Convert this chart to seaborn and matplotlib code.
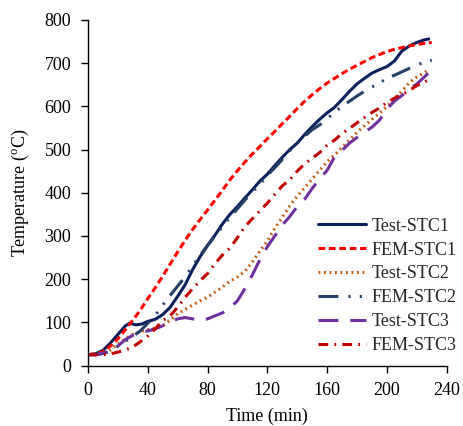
import numpy as np
import pandas as pd
import matplotlib
matplotlib.use("Agg")
import matplotlib.pyplot as plt
import seaborn as sns

# ---- data ----
t_test1 = [0, 5, 10, 15, 20, 25, 28, 32, 36, 40, 45, 50, 55, 60, 65, 70, 75, 80, 85, 90, 95, 100,
           105, 110, 115, 120, 125, 130, 135, 140, 145, 150, 155, 160, 165, 170, 175, 180, 185,
           190, 195, 200, 205, 210, 215, 220, 225, 228]
T_test1 = [25, 27, 35, 52, 72, 92, 98, 94, 96, 102, 107, 118, 135, 160, 187, 222, 252, 278, 302,
           328, 350, 368, 388, 407, 427, 443, 463, 482, 500, 515, 535, 553, 570, 585, 598, 616,
           635, 652, 665, 677, 685, 692, 705, 728, 740, 748, 754, 756]

t_fem1 = [0, 5, 10, 15, 20, 25, 30, 35, 40, 45, 50, 55, 60, 65, 70, 75, 80, 85, 90, 95, 100, 105,
          110, 115, 120, 125, 130, 135, 140, 145, 150, 155, 160, 165, 170, 175, 180, 185, 190, 195,
          200, 205, 210, 215, 220, 225, 230]
T_fem1 = [25, 27, 32, 45, 62, 83, 105, 128, 155, 180, 207, 235, 263, 290, 315, 338, 360, 383,
          406, 430, 451, 471, 490, 507, 525, 542, 560, 577, 595, 612, 627, 641, 654, 665, 676,
          686, 695, 704, 713, 720, 727, 732, 736, 740, 743, 746, 748]

t_test2 = [0, 5, 10, 15, 20, 25, 30, 35, 40, 45, 50, 55, 60, 65, 70, 75, 80, 85, 90, 95, 100, 105,
           110, 115, 120, 125, 130, 135, 140, 145, 150, 155, 160, 165, 170, 175, 180, 185, 190,
           195, 200, 205, 210, 215, 220, 225, 228]
T_test2 = [25, 25, 28, 36, 50, 62, 72, 78, 83, 87, 92, 105, 120, 130, 140, 150, 158, 170, 182,
           195, 205, 218, 240, 265, 288, 318, 343, 370, 392, 412, 432, 452, 472, 488, 505, 522,
           540, 555, 570, 584, 600, 618, 635, 655, 668, 678, 685]

t_fem2 = [0, 5, 10, 15, 20, 25, 30, 35, 40, 45, 50, 55, 60, 65, 70, 75, 80, 85, 90, 95, 100, 105,
          110, 115, 120, 125, 130, 135, 140, 145, 150, 155, 160, 165, 170, 175, 180, 185, 190, 195,
          200, 205, 210, 215, 220, 225, 230]
T_fem2 = [25, 25, 28, 35, 45, 56, 68, 80, 98, 116, 140, 162, 184, 205, 230, 255, 278, 300, 322,
          343, 363, 383, 402, 420, 440, 458, 477, 497, 515, 531, 546, 557, 571, 587, 600, 612,
          624, 635, 645, 654, 665, 672, 680, 688, 696, 702, 707]

t_test3 = [0, 5, 10, 15, 20, 25, 30, 35, 40, 45, 50, 55, 60, 65, 70, 75, 80, 85, 90, 95, 100, 105,
           110, 115, 120, 125, 130, 135, 140, 145, 150, 155, 160, 165, 170, 175, 180, 185, 190,
           195, 200, 205, 210, 215, 220, 225, 228]
T_test3 = [25, 25, 28, 33, 45, 60, 70, 76, 80, 85, 92, 101, 108, 111, 108, 104, 108, 115, 122,
           133, 150, 178, 210, 245, 275, 300, 325, 345, 368, 385, 410, 432, 452, 483, 498, 515,
           528, 540, 552, 568, 594, 612, 625, 640, 652, 668, 678]

t_fem3 = [0, 5, 10, 15, 20, 25, 30, 35, 40, 45, 50, 55, 60, 65, 70, 75, 80, 85, 90, 95, 100, 105,
          110, 115, 120, 125, 130, 135, 140, 145, 150, 155, 160, 165, 170, 175, 180, 185, 190, 195,
          200, 205, 210, 215, 220, 225, 228]
T_fem3 = [25, 25, 25, 27, 31, 36, 43, 55, 68, 85, 104, 115, 135, 158, 178, 196, 213, 236, 256,
          272, 296, 322, 340, 358, 376, 396, 416, 430, 450, 467, 480, 493, 510, 522, 537, 549,
          562, 574, 586, 596, 609, 619, 627, 637, 648, 656, 662]

labels = ["Test-STC1", "FEM-STC1", "Test-STC2", "FEM-STC2", "Test-STC3", "FEM-STC3"]
x_ticks = [0, 40, 80, 120, 160, 200, 240]
y_ticks = [0, 100, 200, 300, 400, 500, 600, 700, 800]

series = [
    (t_test1, T_test1), (t_fem1, T_fem1), (t_test2, T_test2),
    (t_fem2, T_fem2), (t_test3, T_test3), (t_fem3, T_fem3),
]

# ---- styles ----
colors = ["#0A1F5C", "#FF0000", "#C55A11", "#243F66", "#7030A0", "#C00000"]
styles = ["-", (0, (2.2, 1.2)), (0, (0.6, 1.2)), (0, (6.5, 3.3, 0.7, 3.0, 0.7, 3.0)),
          (0, (6.5, 3.9)), (0, (3.2, 2.0, 0.6, 2.0))]

sns.set_theme(style="ticks")
plt.rcParams["font.family"] = ["Liberation Serif", "DejaVu Serif"]
plt.rcParams["mathtext.fontset"] = "custom"
plt.rcParams["mathtext.rm"] = "Liberation Serif"

fig = plt.figure(figsize=(4.64, 4.26), dpi=100)
ax = fig.add_axes([88 / 464, 1 - 365.5 / 426, (446.7 - 88) / 464, (365.5 - 20) / 426])

for (t, T), lab, c, ls in zip(series, labels, colors, styles):
    df = pd.DataFrame({"Time": t, "Temp": T})
    sns.lineplot(data=df, x="Time", y="Temp", ax=ax, color=c, linewidth=2.2,
                 linestyle=ls, label=lab, errorbar=None, sort=False)

ax.set_xlim(0, 240)
ax.set_ylim(0, 800)
ax.set_xticks(x_ticks)
ax.set_yticks(y_ticks)
sns.despine(ax=ax)
for s in ["left", "bottom"]:
    ax.spines[s].set_color("#000000")
    ax.spines[s].set_linewidth(1.0)
ax.tick_params(direction="out", length=5, width=1, color="#000000",
               labelsize=13, labelcolor="#000000", pad=7)
ax.set_xlabel("Time (min)", fontsize=13, color="#000000", labelpad=6)
ax.set_ylabel(r"Temperature ($\mathregular{^o}$C)", fontsize=13, color="#000000", labelpad=10)

leg = ax.legend(loc="lower right", bbox_to_anchor=(457 / 464, 72 / 426),
                bbox_transform=fig.transFigure, frameon=False, fontsize=13,
                handlelength=2.7, handletextpad=0.3, labelspacing=0.38, borderaxespad=0,
                borderpad=0)

fig.savefig("out.png", dpi=100)
